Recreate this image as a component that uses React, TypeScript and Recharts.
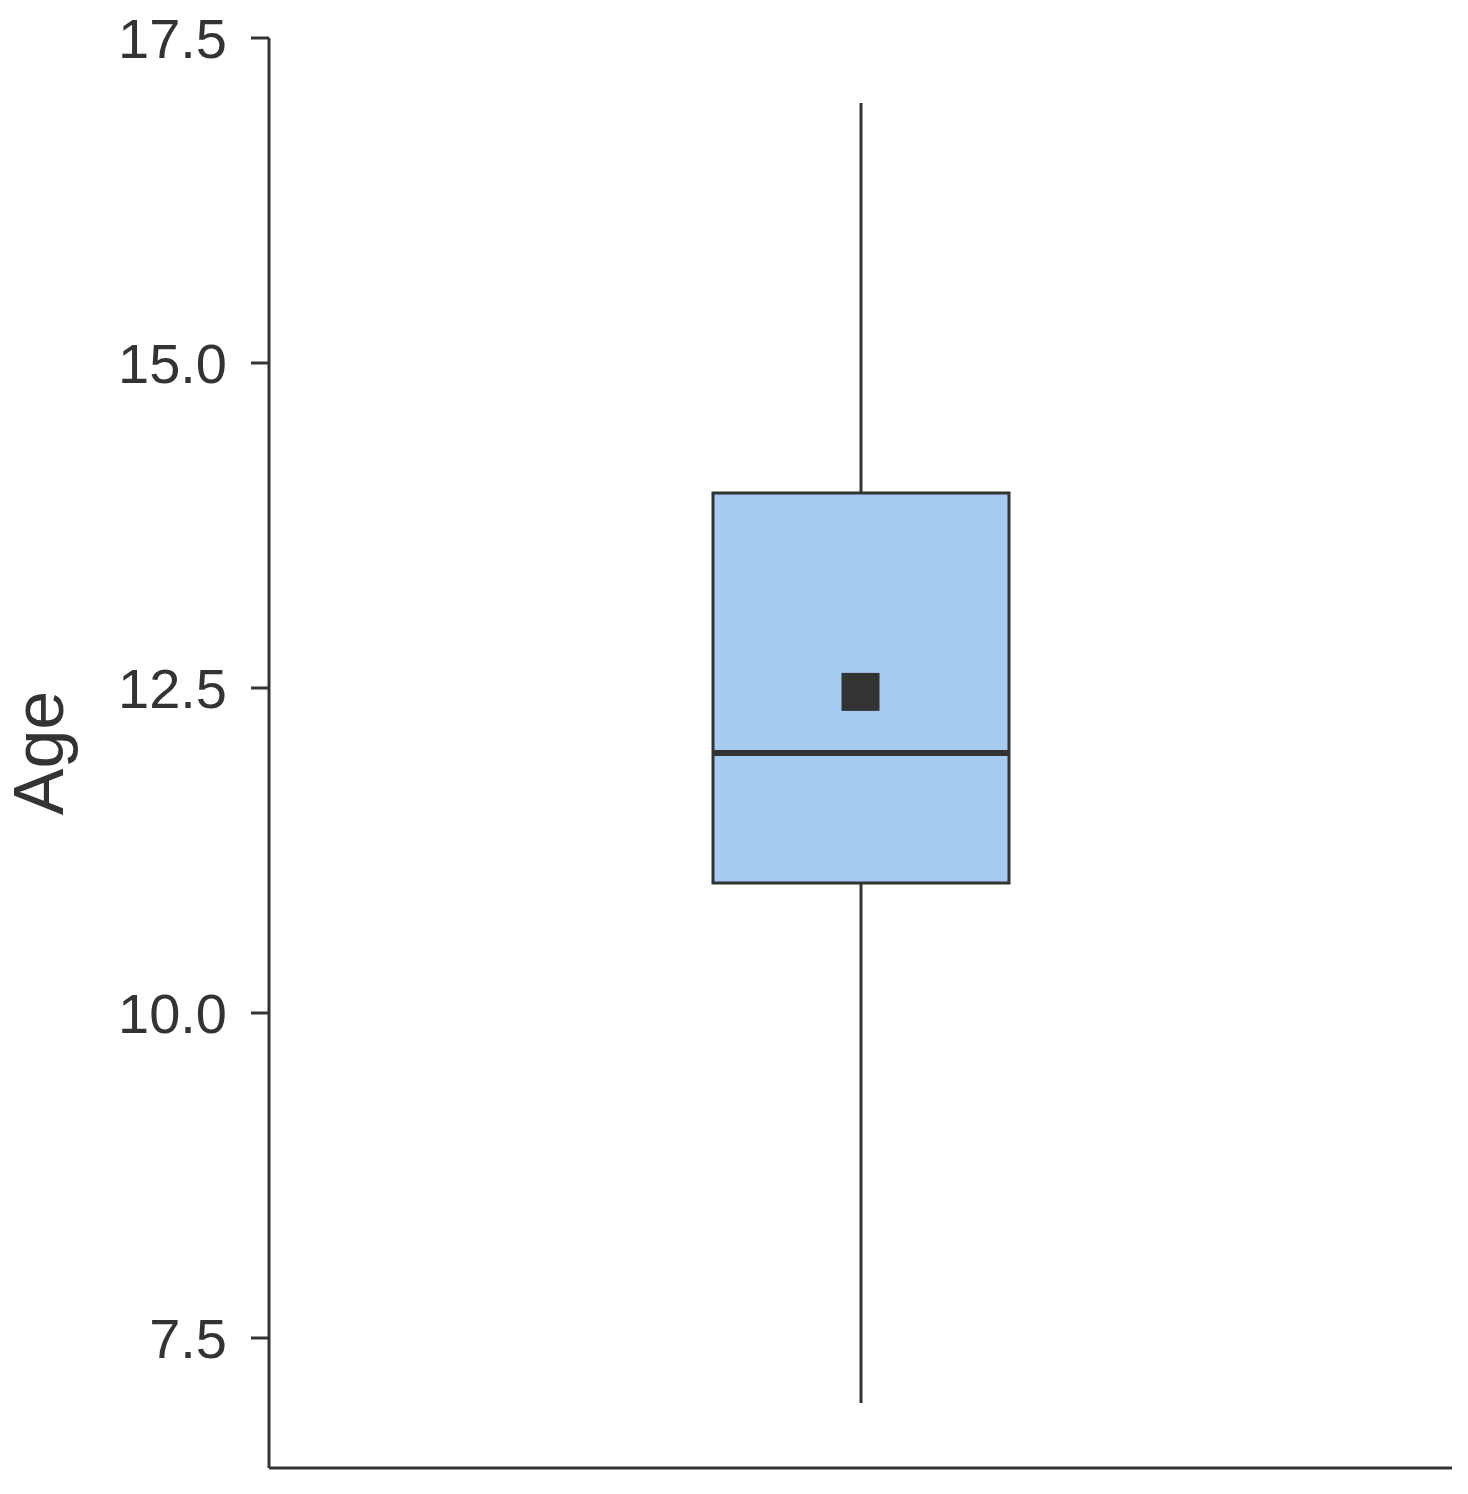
import React from "react";
import { ComposedChart, Bar, Scatter, XAxis, YAxis } from "recharts";

const categories = ["Age"];
const minValues = [7];
const q1Values = [11];
const medianValues = [12];
const q3Values = [14];
const maxValues = [17];
const meanValues = [12.47];
const yTicks = [7.5, 10, 12.5, 15, 17.5];
const yDomain = [6.5, 17.5];

const data = categories.map((name, i) => ({
  name,
  min: minValues[i],
  q1: q1Values[i],
  median: medianValues[i],
  q3: q3Values[i],
  max: maxValues[i],
  mean: meanValues[i],
  range: [minValues[i], maxValues[i]],
}));

const INK = "#333333";

const BoxShape = (props: any) => {
  const { x, y, width, height, payload } = props;
  const { min, max, q1, q3, median } = payload;
  const px = (v: number) => y + ((max - v) / (max - min)) * height;
  const cx = x + width / 2;
  const yQ3 = px(q3);
  const yQ1 = px(q1);
  const yMed = px(median);
  return (
    <g>
      <line x1={cx} x2={cx} y1={px(max)} y2={yQ3} stroke={INK} strokeWidth={3} />
      <line x1={cx} x2={cx} y1={yQ1} y2={px(min)} stroke={INK} strokeWidth={3} />
      <rect x={x} y={yQ3} width={width} height={yQ1 - yQ3} fill="#A6CBF1" stroke={INK} strokeWidth={3} />
      <line x1={x} x2={x + width} y1={yMed} y2={yMed} stroke={INK} strokeWidth={6} />
    </g>
  );
};

const MeanShape = (props: any) => {
  const { cx, cy } = props;
  const s = 38;
  return <rect x={cx - s / 2} y={cy - s / 2} width={s} height={s} fill={INK} />;
};

export default function App() {
  return (
    <div style={{ position: "absolute", left: 0, top: 0, width: 1468, height: 1494, background: "#fff" }}>
      <ComposedChart
        width={1468}
        height={1494}
        data={data}
        margin={{ top: 38, right: 16, bottom: 0, left: 0 }}
      >
        <XAxis
          dataKey="name"
          type="category"
          height={26}
          tick={false}
          tickLine={false}
          axisLine={{ stroke: INK, strokeWidth: 3 }}
        />
        <YAxis
          width={269}
          type="number"
          domain={yDomain}
          ticks={yTicks}
          allowDataOverflow
          tickFormatter={(v: number) => v.toFixed(1)}
          tickSize={18}
          tickMargin={24}
          tickLine={{ stroke: INK, strokeWidth: 3 }}
          axisLine={{ stroke: INK, strokeWidth: 3 }}
          tick={{ fill: INK, fontSize: 56, fontFamily: "'Liberation Sans', Arial, sans-serif" }}
        />
        <Bar dataKey="range" barSize={296} shape={<BoxShape />} isAnimationActive={false} />
        <Scatter dataKey="mean" shape={<MeanShape />} isAnimationActive={false} />
      </ComposedChart>
      <svg
        width={1468}
        height={1494}
        style={{ position: "absolute", left: 0, top: 0, pointerEvents: "none" }}
      >
        <text
          x={63}
          y={753}
          transform="rotate(-90 63 753)"
          textAnchor="middle"
          fill={INK}
          fontSize={70}
          fontFamily="'Liberation Sans', Arial, sans-serif"
        >
          Age
        </text>
      </svg>
    </div>
  );
}
